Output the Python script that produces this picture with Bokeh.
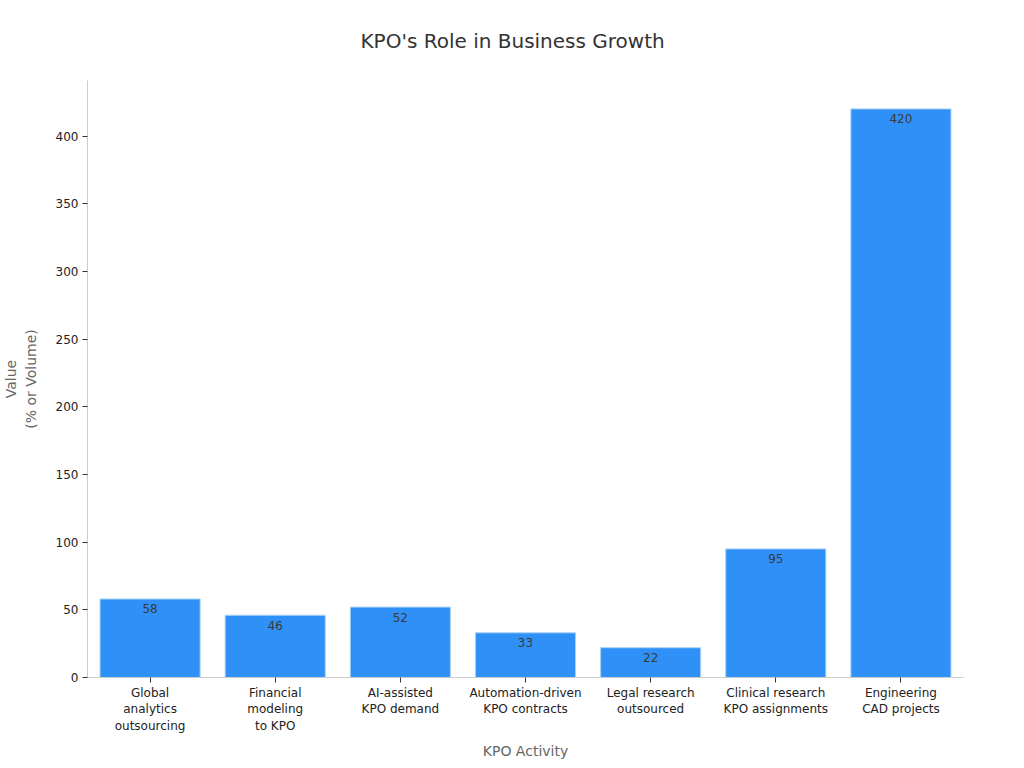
from bokeh.plotting import figure
from bokeh.models import ColumnDataSource, LabelSet, Range1d, Title
from bokeh.core.properties import value
from bokeh.embed import file_html
from bokeh.resources import INLINE

categories = [
    "Global\nanalytics\noutsourcing",
    "Financial\nmodeling\nto KPO",
    "AI-assisted\nKPO demand",
    "Automation-driven\nKPO contracts",
    "Legal research\noutsourced",
    "Clinical research\nKPO assignments",
    "Engineering\nCAD projects",
]
values = [58, 46, 52, 33, 22, 95, 420]
value_labels = [str(v) for v in values]
title_text = "KPO's Role in Business Growth"

FONT = "DejaVu Sans"

source = ColumnDataSource(data=dict(cat=categories, val=values, lbl=value_labels))

p = figure(
    x_range=categories,
    y_range=Range1d(0, 441),
    width=1024,
    height=768,
    frame_width=876,
    frame_height=597,
    min_border_left=87,
    min_border_right=61,
    min_border_top=80,
    min_border_bottom=91,
    output_backend="svg",
    toolbar_location=None,
)

p.vbar(x="cat", top="val", width=0.8, source=source,
       fill_color="#2f91f7", line_color="#a9d2f8", line_width=1)

labels = LabelSet(x="cat", y="val", text="lbl", source=source,
                  text_align="center", text_baseline="middle", y_offset=-10,
                  text_font=value(FONT), text_font_size="12px", text_color="#3a3a3a")
p.add_layout(labels)

heading = Title(text=title_text, align="left", offset=273, vertical_align="top",
                standoff=52, text_font=FONT, text_font_size="20px",
                text_font_style="normal", text_color="#333333")
p.add_layout(heading, "above")

p.xgrid.grid_line_color = None
p.ygrid.grid_line_color = None
p.outline_line_color = None

p.yaxis.ticker = [0, 50, 100, 150, 200, 250, 300, 350, 400]
p.yaxis.axis_label = "Value\n(% or Volume)"
p.xaxis.axis_label = "KPO Activity"

for ax in (p.xaxis, p.yaxis):
    ax.axis_line_color = "#cccccc"
    ax.major_tick_line_color = "#333333"
    ax.major_tick_out = 5
    ax.major_tick_in = 0
    ax.minor_tick_line_color = None
    ax.major_label_text_font = FONT
    ax.major_label_text_font_size = "12px"
    ax.major_label_text_color = "#222222"
    ax.axis_label_text_font = FONT
    ax.axis_label_text_font_size = "14px"
    ax.axis_label_text_font_style = "normal"
    ax.axis_label_text_color = "#666666"

p.yaxis.major_label_standoff = 4
p.xaxis.major_label_standoff = 3
p.xaxis.axis_label_standoff = 7
p.yaxis.axis_label_standoff = 14

open("out.html", "w").write(file_html(p, INLINE))
